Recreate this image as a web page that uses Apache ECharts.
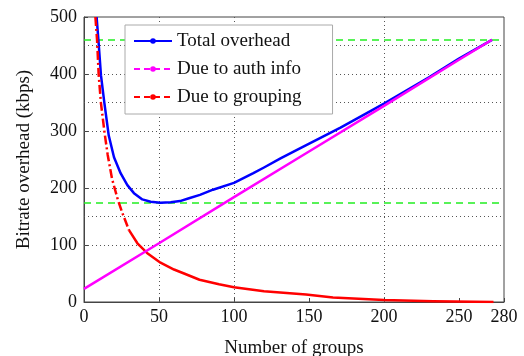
<!DOCTYPE html>
<html>
<head>
<meta charset="utf-8">
<script src="https://cdn.jsdelivr.net/npm/echarts@6/dist/echarts.min.js"></script>
<style>
  html, body { margin: 0; padding: 0; background: #fff; }
  #chart { width: 524px; height: 356px; }
</style>
</head>
<body>
<div id="chart"></div>
<script>
// 数据: 点
const authX = [0, 50, 100, 150, 200, 250, 272];
const authY = [23, 103, 184, 264, 344, 425, 460];

const totalX = [8.4, 9.6, 11.3, 13.6, 16.5, 20, 24.4, 28.9, 33.3, 38.9, 44.4, 51, 57.8, 64, 70, 77.3, 86, 100, 112.9, 120, 131, 142, 171, 200, 230, 250, 272];
const totalY = [500, 460, 398, 349, 292, 254, 226, 205, 191, 180, 176, 174, 175, 177, 182, 188, 197, 209, 226, 236, 252, 267, 306, 348, 394, 427, 460];

const grpX = [7.6, 8.7, 9.8, 11.3, 13.6, 15.8, 18.7, 22.5, 25.6, 30, 35.6, 42, 51, 60, 66.7, 77, 90, 100, 120, 148, 166, 200, 233, 273];
const grpY = [500, 460, 398, 349, 299, 258, 216, 180, 156, 126, 103, 86, 69, 57, 50, 39, 31, 26, 19, 13, 8, 3.5, 1.2, 0];

// 绿色虚线参考值, 网格线位置
const refLevels = [460, 174];
const gridYs = [100, 150, 200, 300, 350, 400, 450];
const gridXs = [50, 100, 200];

const seriesNames = ['Total overhead', 'Due to auth info', 'Due to grouping'];

const font = "'Liberation Serif', 'DejaVu Serif', serif";
const pairs = (xs, ys) => xs.map((x, i) => [x, ys[i]]);

// 红线陡峭部分是虚线, 平缓部分看起来是实线
const splitIdx = grpX.indexOf(30);
const grpSolid = pairs(grpX.slice(splitIdx), grpY.slice(splitIdx));
const grpDash = pairs(grpX.slice(0, splitIdx + 1), grpY.slice(0, splitIdx + 1));

const dotted = { color: '#555', width: 1, type: [1, 3] };

const option = {
  backgroundColor: '#fff',
  animation: false,
  grid: {
    left: 84, right: 20, top: 17, bottom: 54,
    outerBoundsMode: 'none',
    show: true, borderColor: '#444', borderWidth: 1
  },
  legend: {
    orient: 'vertical',
    left: 125, top: 25,
    padding: [6, 31, 7, 8],
    itemWidth: 38, itemHeight: 7, itemGap: 8,
    backgroundColor: '#fff',
    borderColor: '#aaa', borderWidth: 1,
    textStyle: { fontFamily: font, fontSize: 19, color: '#111', lineHeight: 20 },
    data: [
      { name: seriesNames[0] },
      { name: seriesNames[1], lineStyle: { type: [6, 4] } },
      { name: seriesNames[2], lineStyle: { type: [6, 4] } }
    ]
  },
  xAxis: {
    type: 'value', min: 0, max: 280, interval: 50,
    name: 'Number of groups', nameLocation: 'middle', nameGap: 37,
    nameTextStyle: { fontFamily: font, fontSize: 19, color: '#111' },
    axisLine: { lineStyle: { color: '#444' } },
    axisTick: { inside: true, length: 4, lineStyle: { color: '#444' } },
    axisLabel: { fontFamily: font, fontSize: 18, color: '#111', margin: 6, showMaxLabel: true },
    splitLine: { show: false }
  },
  yAxis: {
    type: 'value', min: 0, max: 500, interval: 100,
    name: 'Bitrate overhead (kbps)', nameLocation: 'middle', nameGap: 50,
    nameTextStyle: { fontFamily: font, fontSize: 19, color: '#111' },
    axisLine: { show: true, lineStyle: { color: '#444' } },
    axisTick: { show: true, inside: true, length: 4, lineStyle: { color: '#444' } },
    axisLabel: { fontFamily: font, fontSize: 18, color: '#111', margin: 7 },
    splitLine: { show: false }
  },
  series: [
    {
      name: 'helper', type: 'line', data: [], silent: true,
      markLine: {
        silent: true, symbol: 'none', z: 1, label: { show: false },
        data: [
          ...gridYs.map(v => ({ yAxis: v, lineStyle: dotted })),
          ...gridXs.map(v => ({ xAxis: v, lineStyle: dotted })),
          ...refLevels.map(v => ({ yAxis: v, lineStyle: { color: '#22ee22', width: 1.6, type: [7, 5] } }))
        ]
      }
    },
    {
      name: seriesNames[0], type: 'line', data: pairs(totalX, totalY),
      symbol: 'circle', symbolSize: 4, showSymbol: false,
      lineStyle: { color: '#0000ff', width: 2.5, join: 'round' }, itemStyle: { color: '#0000ff' }, z: 3
    },
    {
      name: seriesNames[1], type: 'line', data: pairs(authX, authY),
      symbol: 'circle', symbolSize: 4, showSymbol: false,
      lineStyle: { color: '#ff00ff', width: 2.5 }, itemStyle: { color: '#ff00ff' }, z: 4
    },
    {
      name: seriesNames[2], type: 'line', data: grpSolid,
      symbol: 'circle', symbolSize: 4, showSymbol: false,
      lineStyle: { color: '#ff0000', width: 2.5, join: 'round' }, itemStyle: { color: '#ff0000' }, z: 3
    },
    {
      name: seriesNames[2], type: 'line', data: grpDash,
      symbol: 'circle', symbolSize: 4, showSymbol: false,
      lineStyle: { color: '#ff0000', width: 2.5, type: [9, 3, 2, 3] }, itemStyle: { color: '#ff0000' }, z: 3
    }
  ]
};

const myChart = echarts.init(document.getElementById('chart'));
myChart.setOption(option);
</script>
</body>
</html>
